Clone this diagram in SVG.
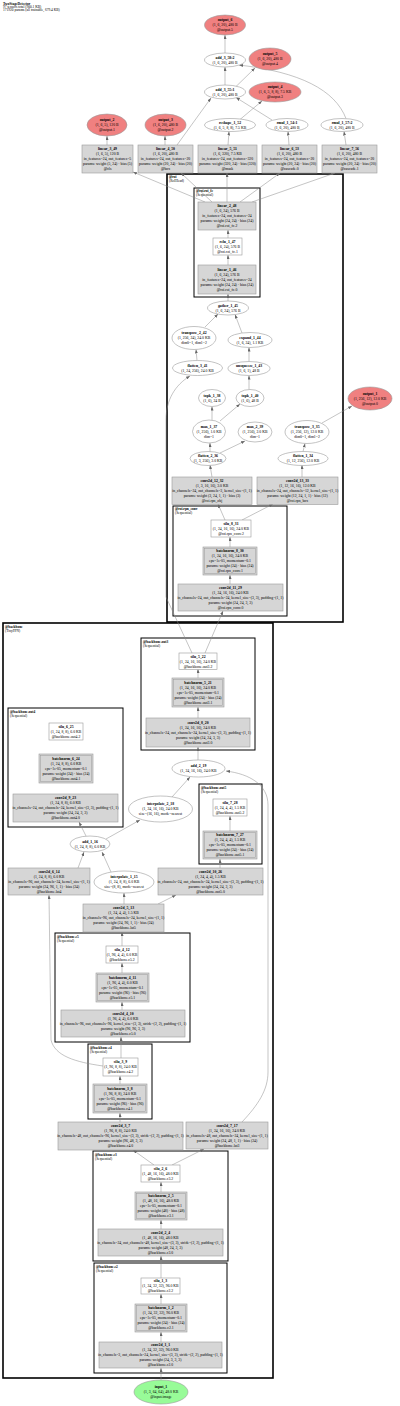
<svg xmlns="http://www.w3.org/2000/svg" width="400" height="1406" viewBox="0 0 400 1406">
<style>
text{font-family:"Liberation Serif",serif;font-size:3.8px;fill:#000}
.t{text-anchor:middle}
.b{font-weight:bold}
.h{font-size:3.5px}
.cl{font-size:3.5px}
.g{fill:#d6d6d6;stroke:#9a9a9a;stroke-width:0.6}
.w{fill:#fff;stroke:#9a9a9a;stroke-width:0.6}
.e{fill:#fff;stroke:#9a9a9a;stroke-width:0.6}
.o{fill:#f08080;stroke:#9a9a9a;stroke-width:0.6}
.i{fill:#98fb98;stroke:#9a9a9a;stroke-width:0.6}
.c1{fill:none;stroke:#000;stroke-width:1.6}
.c2{fill:none;stroke:#000;stroke-width:1}
.ed path{fill:none;stroke:#8a8a8a;stroke-width:0.5;marker-end:url(#a)}
</style>
<defs>
<marker id="a" markerWidth="4" markerHeight="3" refX="4" refY="1.5" orient="auto" markerUnits="userSpaceOnUse"><path d="M0,0L4,1.5L0,3z" fill="#666"/></marker>
</defs>
<rect width="400" height="1406" fill="#fff"/>
<g id="header">
<text class="h b" x="3" y="4.6">TwoStageDetector</text>
<text class="h" x="3" y="8">97 tensors total (900.1 KB)</text>
<text class="h" x="3" y="11.3">171920 params (all trainable, 679.4 KB)</text>
</g>
<g id="clusters">
<rect class="c1" x="167" y="174" width="176" height="448"/>
<text class="cl b" x="169" y="178">@roi</text><text class="cl" x="169" y="182">(RoIHead)</text>
<rect class="c2" x="194" y="188" width="66" height="109"/>
<text class="cl b" x="196" y="192">@roi.roi_fc</text><text class="cl" x="196" y="196">(Sequential)</text>
<rect class="c2" x="173" y="506" width="114" height="110"/>
<text class="cl b" x="175" y="510">@roi.rpn_conv</text><text class="cl" x="175" y="514">(Sequential)</text>
<rect class="c1" x="3" y="623" width="270" height="755"/>
<text class="cl b" x="5" y="627.5">@backbone</text><text class="cl" x="5" y="631.5">(TinyFPN)</text>
<rect class="c2" x="141" y="638" width="114" height="112"/>
<text class="cl b" x="143" y="642.5">@backbone.out3</text><text class="cl" x="143" y="646.5">(Sequential)</text>
<rect class="c2" x="8" y="708" width="115" height="119"/>
<text class="cl b" x="10" y="712.5">@backbone.out4</text><text class="cl" x="10" y="716.5">(Sequential)</text>
<rect class="c2" x="199" y="784" width="63" height="80"/>
<text class="cl b" x="201" y="788.5">@backbone.out5</text><text class="cl" x="201" y="792.5">(Sequential)</text>
<rect class="c2" x="55" y="933" width="135" height="109"/>
<text class="cl b" x="57" y="937.5">@backbone.c5</text><text class="cl" x="57" y="941.5">(Sequential)</text>
<rect class="c2" x="88" y="1044" width="64" height="75"/>
<text class="cl b" x="90" y="1048.5">@backbone.c4</text><text class="cl" x="90" y="1052.5">(Sequential)</text>
<rect class="c2" x="93" y="1151" width="135" height="110"/>
<text class="cl b" x="95" y="1155.5">@backbone.c3</text><text class="cl" x="95" y="1159.5">(Sequential)</text>
<rect class="c2" x="94" y="1263" width="133" height="110"/>
<text class="cl b" x="96" y="1267.5">@backbone.c2</text><text class="cl" x="96" y="1271.5">(Sequential)</text>
</g>
<g id="connectors" class="ed">
<path d="M161,1380L161,1368"/>
<path d="M161,1342L161,1332"/>
<path d="M161,1304L161,1294"/>
<path d="M161,1278L161,1256"/>
<path d="M161,1229L161,1220"/>
<path d="M161,1192L161,1182"/>
<path d="M154,1165L133,1150"/>
<path d="M172,1165L204,1149"/>
<path d="M120,1122L120,1113"/>
<path d="M120,1084L120,1076"/>
<path d="M121,1058L121,1037"/>
<path d="M103,1066C75,1062 55,1056 51,1040L49,895"/>
<path d="M122,1010L122,1002"/>
<path d="M122,973L122,963"/>
<path d="M122,946L122,932"/>
<path d="M124,904L124,893"/>
<path d="M158,904L176,895"/>
<path d="M111,872L102,852"/>
<path d="M78,868L84,852"/>
<path d="M86,836L79,822"/>
<path d="M106,839L140,820"/>
<path d="M172,797L190,777"/>
<path d="M242,1122C258,1105 268,1090 268,1072L268,805C268,785 250,774 226,771"/>
<path d="M220,868L220,859"/>
<path d="M230,831L230,816"/>
<path d="M198,760L198,747"/>
<path d="M198,718L198,707"/>
<path d="M198,678L198,669"/>
<path d="M205,653L223,611"/>
<path d="M192,653L166,597L166,420C166,400 175,385 190,376"/>
<path d="M230,584L230,575"/>
<path d="M230,547L230,537"/>
<path d="M225,520L218,504"/>
<path d="M242,520L273,504"/>
<path d="M212,477L210,465"/>
<path d="M302,477L302,465"/>
<path d="M210,452L210,443"/>
<path d="M220,453L245,441"/>
<path d="M212,420L212,406.5"/>
<path d="M220,421L240,404"/>
<path d="M249,389.5L249,375.5"/>
<path d="M249,361.5L249,347.5"/>
<path d="M242,333L235,314.5"/>
<path d="M197,360.5L196,349.5"/>
<path d="M205,327L218,314"/>
<path d="M228,301L228,294"/>
<path d="M228,265L228,255"/>
<path d="M228,238L228,230"/>
<path d="M303,451.5L305,443.5"/>
<path d="M322,423L352,406"/>
<path d="M205,202L133,172"/>
<path d="M212,202L181,173"/>
<path d="M227,202L227,173"/>
<path d="M240,202L280,173"/>
<path d="M252,202L335,173"/>
<path d="M107,145L107,136"/>
<path d="M165,145L165,136"/>
<path d="M177,145L211,98"/>
<path d="M228,145L229,131.5"/>
<path d="M289,145L288,131.5"/>
<path d="M346,145L344,131.5"/>
<path d="M240,119.5L262,101"/>
<path d="M272,120L236,97.5"/>
<path d="M225,85L225,67"/>
<path d="M236,86.5L255,68"/>
<path d="M346,118.5C335,90 300,72 239,65"/>
<path d="M225,53L225,35"/>
</g>
<g id="output_6"><ellipse class="o" cx="225" cy="25" rx="20.5" ry="10"/><text class="t" x="225" y="21.4"><tspan class="b">output_6</tspan><tspan x="225" dy="5">(1, 6, 20), 480 B</tspan><tspan x="225" dy="5">@output.5</tspan></text></g>
<g id="add_3_58"><ellipse class="e" cx="225" cy="60" rx="20.5" ry="7"/><text class="t" x="225" y="58.9"><tspan class="b">add_3_58:2</tspan><tspan x="225" dy="5">(1, 6, 20), 480 B</tspan></text></g>
<g id="output_5"><ellipse class="o" cx="270" cy="59" rx="21" ry="11"/><text class="t" x="270" y="55.4"><tspan class="b">output_5</tspan><tspan x="270" dy="5">(1, 6, 20), 480 B</tspan><tspan x="270" dy="5">@output.4</tspan></text></g>
<g id="add_3_55"><ellipse class="e" cx="225" cy="92" rx="20.5" ry="7"/><text class="t" x="225" y="90.9"><tspan class="b">add_3_55:1</tspan><tspan x="225" dy="5">(1, 6, 20), 480 B</tspan></text></g>
<g id="output_4"><ellipse class="o" cx="275" cy="92" rx="26" ry="10"/><text class="t" x="275" y="88.4"><tspan class="b">output_4</tspan><tspan x="275" dy="5">(1, 6, 5, 8, 8), 7.5 KB</tspan><tspan x="275" dy="5">@output.3</tspan></text></g>
<g id="reshape_1_52"><ellipse class="e" cx="230" cy="125" rx="25.5" ry="6.5"/><text class="t" x="230" y="123.9"><tspan class="b">reshape_1_52</tspan><tspan x="230" dy="5">(1, 6, 5, 8, 8), 7.5 KB</tspan></text></g>
<g id="rmul_1_54"><ellipse class="e" cx="287" cy="125" rx="21" ry="6.5"/><text class="t" x="287" y="123.9"><tspan class="b">rmul_1_54:1</tspan><tspan x="287" dy="5">(1, 6, 20), 480 B</tspan></text></g>
<g id="rmul_1_57"><ellipse class="e" cx="342" cy="125" rx="21" ry="6.5"/><text class="t" x="342" y="123.9"><tspan class="b">rmul_1_57:2</tspan><tspan x="342" dy="5">(1, 6, 20), 480 B</tspan></text></g>
<g id="output_2"><ellipse class="o" cx="107" cy="125" rx="20" ry="11"/><text class="t" x="107" y="121.4"><tspan class="b">output_2</tspan><tspan x="107" dy="5">(1, 6, 5), 120 B</tspan><tspan x="107" dy="5">@output.1</tspan></text></g>
<g id="output_3"><ellipse class="o" cx="165.5" cy="125" rx="20.5" ry="11"/><text class="t" x="165.5" y="121.4"><tspan class="b">output_3</tspan><tspan x="165.5" dy="5">(1, 6, 20), 480 B</tspan><tspan x="165.5" dy="5">@output.2</tspan></text></g>
<g id="linear_3_49"><rect class="g" x="82" y="145" width="51" height="28"/><text class="t" x="107.5" y="150.4"><tspan class="b">linear_3_49</tspan><tspan x="107.5" dy="5">(1, 6, 5), 120 B</tspan><tspan x="107.5" dy="5">in_features=24, out_features=5</tspan><tspan x="107.5" dy="5">params: weight (5, 24) · bias (5)</tspan><tspan x="107.5" dy="5">@cls</tspan></text></g>
<g id="linear_4_50"><rect class="g" x="138" y="145" width="55" height="28"/><text class="t" x="165.5" y="150.4"><tspan class="b">linear_4_50</tspan><tspan x="165.5" dy="5">(1, 6, 20), 480 B</tspan><tspan x="165.5" dy="5">in_features=24, out_features=20</tspan><tspan x="165.5" dy="5">params: weight (20, 24) · bias (20)</tspan><tspan x="165.5" dy="5">@box</tspan></text></g>
<g id="linear_5_51"><rect class="g" x="198" y="145" width="59" height="28"/><text class="t" x="227.5" y="150.4"><tspan class="b">linear_5_51</tspan><tspan x="227.5" dy="5">(1, 6, 320), 7.5 KB</tspan><tspan x="227.5" dy="5">in_features=24, out_features=320</tspan><tspan x="227.5" dy="5">params: weight (320, 24) · bias (320)</tspan><tspan x="227.5" dy="5">@mask</tspan></text></g>
<g id="linear_6_53"><rect class="g" x="262" y="145" width="55" height="28"/><text class="t" x="289.5" y="150.4"><tspan class="b">linear_6_53</tspan><tspan x="289.5" dy="5">(1, 6, 20), 480 B</tspan><tspan x="289.5" dy="5">in_features=24, out_features=20</tspan><tspan x="289.5" dy="5">params: weight (20, 24) · bias (20)</tspan><tspan x="289.5" dy="5">@cascade.0</tspan></text></g>
<g id="linear_7_56"><rect class="g" x="322" y="145" width="55" height="28"/><text class="t" x="349.5" y="150.4"><tspan class="b">linear_7_56</tspan><tspan x="349.5" dy="5">(1, 6, 20), 480 B</tspan><tspan x="349.5" dy="5">in_features=24, out_features=20</tspan><tspan x="349.5" dy="5">params: weight (20, 24) · bias (20)</tspan><tspan x="349.5" dy="5">@cascade.1</tspan></text></g>
<g id="linear_2_48"><rect class="g" x="198" y="202" width="58" height="28"/><text class="t" x="227" y="207.4"><tspan class="b">linear_2_48</tspan><tspan x="227" dy="5">(1, 6, 24), 576 B</tspan><tspan x="227" dy="5">in_features=24, out_features=24</tspan><tspan x="227" dy="5">params: weight (24, 24) · bias (24)</tspan><tspan x="227" dy="5">@roi.roi_fc.2</tspan></text></g>
<g id="relu_1_47"><rect class="w" x="213" y="238" width="29" height="17"/><text class="t" x="227.5" y="242.9"><tspan class="b">relu_1_47</tspan><tspan x="227.5" dy="5">(1, 6, 24), 576 B</tspan><tspan x="227.5" dy="5">@roi.roi_fc.1</tspan></text></g>
<g id="linear_1_46"><rect class="g" x="198" y="265" width="58" height="29"/><text class="t" x="227" y="270.9"><tspan class="b">linear_1_46</tspan><tspan x="227" dy="5">(1, 6, 24), 576 B</tspan><tspan x="227" dy="5">in_features=24, out_features=24</tspan><tspan x="227" dy="5">params: weight (24, 24) · bias (24)</tspan><tspan x="227" dy="5">@roi.roi_fc.0</tspan></text></g>
<g id="gather_1_45"><ellipse class="e" cx="228" cy="308" rx="20.5" ry="7"/><text class="t" x="228" y="306.9"><tspan class="b">gather_1_45</tspan><tspan x="228" dy="5">(1, 6, 24), 576 B</tspan></text></g>
<g id="transpose_2_42"><ellipse class="e" cx="194" cy="338" rx="22" ry="11.5"/><text class="t" x="194" y="334.4"><tspan class="b">transpose_2_42</tspan><tspan x="194" dy="5">(1, 256, 24), 24.0 KB</tspan><tspan x="194" dy="5">dim0=1, dim1=2</tspan></text></g>
<g id="expand_1_44"><ellipse class="e" cx="250" cy="340" rx="22" ry="7.5"/><text class="t" x="250" y="338.9"><tspan class="b">expand_1_44</tspan><tspan x="250" dy="5">(1, 6, 24), 1.1 KB</tspan></text></g>
<g id="flatten_3_41"><ellipse class="e" cx="197.5" cy="368" rx="25" ry="7.5"/><text class="t" x="197.5" y="366.9"><tspan class="b">flatten_3_41</tspan><tspan x="197.5" dy="5">(1, 24, 256), 24.0 KB</tspan></text></g>
<g id="unsqueeze_1_43"><ellipse class="e" cx="249" cy="368.5" rx="21" ry="7"/><text class="t" x="249" y="367.4"><tspan class="b">unsqueeze_1_43</tspan><tspan x="249" dy="5">(1, 6, 1), 48 B</tspan></text></g>
<g id="topk_1_38"><ellipse class="e" cx="212" cy="398" rx="13.5" ry="8.5"/><text class="t" x="212" y="396.9"><tspan class="b">topk_1_38</tspan><tspan x="212" dy="5">(1, 6), 24 B</tspan></text></g>
<g id="topk_1_40"><ellipse class="e" cx="250" cy="398" rx="14" ry="8.5"/><text class="t" x="250" y="396.9"><tspan class="b">topk_1_40</tspan><tspan x="250" dy="5">(1, 6), 48 B</tspan></text></g>
<g id="max_1_37"><ellipse class="e" cx="209" cy="431.5" rx="16.5" ry="11.5"/><text class="t" x="209" y="427.9"><tspan class="b">max_1_37</tspan><tspan x="209" dy="5">(1, 256), 1.0 KB</tspan><tspan x="209" dy="5">dim=1</tspan></text></g>
<g id="max_2_39"><ellipse class="e" cx="255" cy="432" rx="17" ry="10"/><text class="t" x="255" y="428.4"><tspan class="b">max_2_39</tspan><tspan x="255" dy="5">(1, 256), 2.0 KB</tspan><tspan x="255" dy="5">dim=1</tspan></text></g>
<g id="transpose_3_35"><ellipse class="e" cx="307" cy="432" rx="22" ry="11.5"/><text class="t" x="307" y="428.4"><tspan class="b">transpose_3_35</tspan><tspan x="307" dy="5">(1, 256, 12), 12.0 KB</tspan><tspan x="307" dy="5">dim0=1, dim1=2</tspan></text></g>
<g id="output_1"><ellipse class="o" cx="370" cy="398.5" rx="22" ry="11.5"/><text class="t" x="370" y="394.9"><tspan class="b">output_1</tspan><tspan x="370" dy="5">(1, 256, 12), 12.0 KB</tspan><tspan x="370" dy="5">@output.0</tspan></text></g>
<g id="flatten_2_36"><ellipse class="e" cx="208" cy="458.5" rx="18" ry="7"/><text class="t" x="208" y="457.4"><tspan class="b">flatten_2_36</tspan><tspan x="208" dy="5">(1, 3, 256), 3.0 KB</tspan></text></g>
<g id="flatten_1_34"><ellipse class="e" cx="303" cy="458.5" rx="25" ry="7"/><text class="t" x="303" y="457.4"><tspan class="b">flatten_1_34</tspan><tspan x="303" dy="5">(1, 12, 256), 12.0 KB</tspan></text></g>
<g id="conv2d_12_32"><rect class="g" x="172" y="477" width="80" height="27.5"/><text class="t" x="212" y="482.1"><tspan class="b">conv2d_12_32</tspan><tspan x="212" dy="5">(1, 3, 16, 16), 3.0 KB</tspan><tspan x="212" dy="5">in_channels=24, out_channels=3, kernel_size=(1, 1)</tspan><tspan x="212" dy="5">params: weight (3, 24, 1, 1) · bias (3)</tspan><tspan x="212" dy="5">@roi.rpn_obj</tspan></text></g>
<g id="conv2d_13_33"><rect class="g" x="257" y="477" width="81" height="27.5"/><text class="t" x="297.5" y="482.1"><tspan class="b">conv2d_13_33</tspan><tspan x="297.5" dy="5">(1, 12, 16, 16), 12.0 KB</tspan><tspan x="297.5" dy="5">in_channels=24, out_channels=12, kernel_size=(1, 1)</tspan><tspan x="297.5" dy="5">params: weight (12, 24, 1, 1) · bias (12)</tspan><tspan x="297.5" dy="5">@roi.rpn_box</tspan></text></g>
<g id="silu_8_31"><rect class="w" x="211" y="520" width="40" height="17"/><text class="t" x="231" y="524.9"><tspan class="b">silu_8_31</tspan><tspan x="231" dy="5">(1, 24, 16, 16), 24.0 KB</tspan><tspan x="231" dy="5">@roi.rpn_conv.2</tspan></text></g>
<g id="batchnorm_8_30"><rect class="g" x="203" y="547" width="54" height="28"/><rect x="204.5" y="548.5" width="51" height="25" fill="none" stroke="#9a9a9a" stroke-width="0.5"/><text class="t" x="230" y="552.4"><tspan class="b">batchnorm_8_30</tspan><tspan x="230" dy="5">(1, 24, 16, 16), 24.0 KB</tspan><tspan x="230" dy="5">eps=1e-05, momentum=0.1</tspan><tspan x="230" dy="5">params: weight (24) · bias (24)</tspan><tspan x="230" dy="5">@roi.rpn_conv.1</tspan></text></g>
<g id="conv2d_11_29"><rect class="g" x="178" y="584" width="105" height="27"/><text class="t" x="230.5" y="588.9"><tspan class="b">conv2d_11_29</tspan><tspan x="230.5" dy="5">(1, 24, 16, 16), 24.0 KB</tspan><tspan x="230.5" dy="5">in_channels=24, out_channels=24, kernel_size=(3, 3), padding=(1, 1)</tspan><tspan x="230.5" dy="5">params: weight (24, 24, 3, 3)</tspan><tspan x="230.5" dy="5">@roi.rpn_conv.0</tspan></text></g>
<g id="silu_5_22"><rect class="w" x="179" y="653" width="38" height="16.5"/><text class="t" x="198" y="657.6"><tspan class="b">silu_5_22</tspan><tspan x="198" dy="5">(1, 24, 16, 16), 24.0 KB</tspan><tspan x="198" dy="5">@backbone.out3.2</tspan></text></g>
<g id="batchnorm_5_21"><rect class="g" x="172" y="678" width="52" height="29"/><rect x="173.5" y="679.5" width="49" height="26" fill="none" stroke="#9a9a9a" stroke-width="0.5"/><text class="t" x="198" y="683.9"><tspan class="b">batchnorm_5_21</tspan><tspan x="198" dy="5">(1, 24, 16, 16), 24.0 KB</tspan><tspan x="198" dy="5">eps=1e-05, momentum=0.1</tspan><tspan x="198" dy="5">params: weight (24) · bias (24)</tspan><tspan x="198" dy="5">@backbone.out3.1</tspan></text></g>
<g id="conv2d_8_20"><rect class="g" x="146" y="718" width="104" height="29"/><text class="t" x="198" y="723.9"><tspan class="b">conv2d_8_20</tspan><tspan x="198" dy="5">(1, 24, 16, 16), 24.0 KB</tspan><tspan x="198" dy="5">in_channels=24, out_channels=24, kernel_size=(3, 3), padding=(1, 1)</tspan><tspan x="198" dy="5">params: weight (24, 24, 3, 3)</tspan><tspan x="198" dy="5">@backbone.out3.0</tspan></text></g>
<g id="add_2_19"><ellipse class="e" cx="198.5" cy="768.5" rx="26.5" ry="8.5"/><text class="t" x="198.5" y="767.4"><tspan class="b">add_2_19</tspan><tspan x="198.5" dy="5">(1, 24, 16, 16), 24.0 KB</tspan></text></g>
<g id="silu_6_25"><rect class="w" x="49" y="723" width="34" height="17"/><text class="t" x="66" y="727.9"><tspan class="b">silu_6_25</tspan><tspan x="66" dy="5">(1, 24, 8, 8), 6.0 KB</tspan><tspan x="66" dy="5">@backbone.out4.2</tspan></text></g>
<g id="batchnorm_6_24"><rect class="g" x="39" y="754" width="54" height="29"/><rect x="40.5" y="755.5" width="51" height="26" fill="none" stroke="#9a9a9a" stroke-width="0.5"/><text class="t" x="66" y="759.9"><tspan class="b">batchnorm_6_24</tspan><tspan x="66" dy="5">(1, 24, 8, 8), 6.0 KB</tspan><tspan x="66" dy="5">eps=1e-05, momentum=0.1</tspan><tspan x="66" dy="5">params: weight (24) · bias (24)</tspan><tspan x="66" dy="5">@backbone.out4.1</tspan></text></g>
<g id="conv2d_9_23"><rect class="g" x="13" y="794" width="105" height="28"/><text class="t" x="65.5" y="799.4"><tspan class="b">conv2d_9_23</tspan><tspan x="65.5" dy="5">(1, 24, 8, 8), 6.0 KB</tspan><tspan x="65.5" dy="5">in_channels=24, out_channels=24, kernel_size=(3, 3), padding=(1, 1)</tspan><tspan x="65.5" dy="5">params: weight (24, 24, 3, 3)</tspan><tspan x="65.5" dy="5">@backbone.out4.0</tspan></text></g>
<g id="interpolate_2_18"><ellipse class="e" cx="160.5" cy="809" rx="32" ry="13"/><text class="t" x="160.5" y="805.4"><tspan class="b">interpolate_2_18</tspan><tspan x="160.5" dy="5">(1, 24, 16, 16), 24.0 KB</tspan><tspan x="160.5" dy="5">size=(16, 16), mode=nearest</tspan></text></g>
<g id="add_1_16"><ellipse class="e" cx="90" cy="844" rx="20" ry="8"/><text class="t" x="90" y="842.9"><tspan class="b">add_1_16</tspan><tspan x="90" dy="5">(1, 24, 8, 8), 6.0 KB</tspan></text></g>
<g id="silu_7_28"><rect class="w" x="213" y="799" width="34" height="17"/><text class="t" x="230" y="803.9"><tspan class="b">silu_7_28</tspan><tspan x="230" dy="5">(1, 24, 4, 4), 1.5 KB</tspan><tspan x="230" dy="5">@backbone.out5.2</tspan></text></g>
<g id="batchnorm_7_27"><rect class="g" x="203" y="831" width="54" height="28"/><rect x="204.5" y="832.5" width="51" height="25" fill="none" stroke="#9a9a9a" stroke-width="0.5"/><text class="t" x="230" y="836.4"><tspan class="b">batchnorm_7_27</tspan><tspan x="230" dy="5">(1, 24, 4, 4), 1.5 KB</tspan><tspan x="230" dy="5">eps=1e-05, momentum=0.1</tspan><tspan x="230" dy="5">params: weight (24) · bias (24)</tspan><tspan x="230" dy="5">@backbone.out5.1</tspan></text></g>
<g id="conv2d_10_26"><rect class="g" x="158" y="868" width="105" height="27"/><text class="t" x="210.5" y="872.9"><tspan class="b">conv2d_10_26</tspan><tspan x="210.5" dy="5">(1, 24, 4, 4), 1.5 KB</tspan><tspan x="210.5" dy="5">in_channels=24, out_channels=24, kernel_size=(3, 3), padding=(1, 1)</tspan><tspan x="210.5" dy="5">params: weight (24, 24, 3, 3)</tspan><tspan x="210.5" dy="5">@backbone.out5.0</tspan></text></g>
<g id="conv2d_6_14"><rect class="g" x="8" y="868" width="82" height="27"/><text class="t" x="49" y="872.9"><tspan class="b">conv2d_6_14</tspan><tspan x="49" dy="5">(1, 24, 8, 8), 6.0 KB</tspan><tspan x="49" dy="5">in_channels=96, out_channels=24, kernel_size=(1, 1)</tspan><tspan x="49" dy="5">params: weight (24, 96, 1, 1) · bias (24)</tspan><tspan x="49" dy="5">@backbone.lat4</tspan></text></g>
<g id="interpolate_1_15"><ellipse class="e" cx="124" cy="882" rx="30" ry="11"/><text class="t" x="124" y="878.4"><tspan class="b">interpolate_1_15</tspan><tspan x="124" dy="5">(1, 24, 8, 8), 6.0 KB</tspan><tspan x="124" dy="5">size=(8, 8), mode=nearest</tspan></text></g>
<g id="conv2d_5_13"><rect class="g" x="83" y="904" width="81" height="28"/><text class="t" x="123.5" y="909.4"><tspan class="b">conv2d_5_13</tspan><tspan x="123.5" dy="5">(1, 24, 4, 4), 1.5 KB</tspan><tspan x="123.5" dy="5">in_channels=96, out_channels=24, kernel_size=(1, 1)</tspan><tspan x="123.5" dy="5">params: weight (24, 96, 1, 1) · bias (24)</tspan><tspan x="123.5" dy="5">@backbone.lat5</tspan></text></g>
<g id="silu_4_12"><rect class="w" x="106" y="946" width="32" height="17"/><text class="t" x="122" y="950.9"><tspan class="b">silu_4_12</tspan><tspan x="122" dy="5">(1, 96, 4, 4), 6.0 KB</tspan><tspan x="122" dy="5">@backbone.c5.2</tspan></text></g>
<g id="batchnorm_4_11"><rect class="g" x="96" y="973" width="53" height="29"/><rect x="97.5" y="974.5" width="50" height="26" fill="none" stroke="#9a9a9a" stroke-width="0.5"/><text class="t" x="122.5" y="978.9"><tspan class="b">batchnorm_4_11</tspan><tspan x="122.5" dy="5">(1, 96, 4, 4), 6.0 KB</tspan><tspan x="122.5" dy="5">eps=1e-05, momentum=0.1</tspan><tspan x="122.5" dy="5">params: weight (96) · bias (96)</tspan><tspan x="122.5" dy="5">@backbone.c5.1</tspan></text></g>
<g id="conv2d_4_10"><rect class="g" x="61" y="1010" width="124" height="27"/><text class="t" x="123" y="1014.9"><tspan class="b">conv2d_4_10</tspan><tspan x="123" dy="5">(1, 96, 4, 4), 6.0 KB</tspan><tspan x="123" dy="5">in_channels=96, out_channels=96, kernel_size=(3, 3), stride=(2, 2), padding=(1, 1)</tspan><tspan x="123" dy="5">params: weight (96, 96, 3, 3)</tspan><tspan x="123" dy="5">@backbone.c5.0</tspan></text></g>
<g id="silu_3_9"><rect class="w" x="103" y="1058" width="35" height="18"/><text class="t" x="120.5" y="1063.4"><tspan class="b">silu_3_9</tspan><tspan x="120.5" dy="5">(1, 96, 8, 8), 24.0 KB</tspan><tspan x="120.5" dy="5">@backbone.c4.2</tspan></text></g>
<g id="batchnorm_3_8"><rect class="g" x="93" y="1084" width="54" height="29"/><rect x="94.5" y="1085.5" width="51" height="26" fill="none" stroke="#9a9a9a" stroke-width="0.5"/><text class="t" x="120" y="1089.9"><tspan class="b">batchnorm_3_8</tspan><tspan x="120" dy="5">(1, 96, 8, 8), 24.0 KB</tspan><tspan x="120" dy="5">eps=1e-05, momentum=0.1</tspan><tspan x="120" dy="5">params: weight (96) · bias (96)</tspan><tspan x="120" dy="5">@backbone.c4.1</tspan></text></g>
<g id="conv2d_3_7"><rect class="g" x="58" y="1122" width="125" height="28"/><text class="t" x="120.5" y="1127.4"><tspan class="b">conv2d_3_7</tspan><tspan x="120.5" dy="5">(1, 96, 8, 8), 24.0 KB</tspan><tspan x="120.5" dy="5">in_channels=48, out_channels=96, kernel_size=(3, 3), stride=(2, 2), padding=(1, 1)</tspan><tspan x="120.5" dy="5">params: weight (96, 48, 3, 3)</tspan><tspan x="120.5" dy="5">@backbone.c4.0</tspan></text></g>
<g id="conv2d_7_17"><rect class="g" x="186" y="1122" width="82" height="27"/><text class="t" x="227" y="1126.9"><tspan class="b">conv2d_7_17</tspan><tspan x="227" dy="5">(1, 24, 16, 16), 24.0 KB</tspan><tspan x="227" dy="5">in_channels=48, out_channels=24, kernel_size=(1, 1)</tspan><tspan x="227" dy="5">params: weight (24, 48, 1, 1) · bias (24)</tspan><tspan x="227" dy="5">@backbone.lat3</tspan></text></g>
<g id="silu_2_6"><rect class="w" x="141" y="1165" width="39" height="17"/><text class="t" x="160.5" y="1169.9"><tspan class="b">silu_2_6</tspan><tspan x="160.5" dy="5">(1, 48, 16, 16), 48.0 KB</tspan><tspan x="160.5" dy="5">@backbone.c3.2</tspan></text></g>
<g id="batchnorm_2_5"><rect class="g" x="135" y="1192" width="52" height="28"/><rect x="136.5" y="1193.5" width="49" height="25" fill="none" stroke="#9a9a9a" stroke-width="0.5"/><text class="t" x="161" y="1197.4"><tspan class="b">batchnorm_2_5</tspan><tspan x="161" dy="5">(1, 48, 16, 16), 48.0 KB</tspan><tspan x="161" dy="5">eps=1e-05, momentum=0.1</tspan><tspan x="161" dy="5">params: weight (48) · bias (48)</tspan><tspan x="161" dy="5">@backbone.c3.1</tspan></text></g>
<g id="conv2d_2_4"><rect class="g" x="98" y="1229" width="125" height="27"/><text class="t" x="160.5" y="1233.9"><tspan class="b">conv2d_2_4</tspan><tspan x="160.5" dy="5">(1, 48, 16, 16), 48.0 KB</tspan><tspan x="160.5" dy="5">in_channels=24, out_channels=48, kernel_size=(3, 3), stride=(2, 2), padding=(1, 1)</tspan><tspan x="160.5" dy="5">params: weight (48, 24, 3, 3)</tspan><tspan x="160.5" dy="5">@backbone.c3.0</tspan></text></g>
<g id="silu_1_3"><rect class="w" x="141" y="1278" width="39" height="16"/><text class="t" x="160.5" y="1282.4"><tspan class="b">silu_1_3</tspan><tspan x="160.5" dy="5">(1, 24, 32, 32), 96.0 KB</tspan><tspan x="160.5" dy="5">@backbone.c2.2</tspan></text></g>
<g id="batchnorm_1_2"><rect class="g" x="135" y="1304" width="52" height="28"/><rect x="136.5" y="1305.5" width="49" height="25" fill="none" stroke="#9a9a9a" stroke-width="0.5"/><text class="t" x="161" y="1309.4"><tspan class="b">batchnorm_1_2</tspan><tspan x="161" dy="5">(1, 24, 32, 32), 96.0 KB</tspan><tspan x="161" dy="5">eps=1e-05, momentum=0.1</tspan><tspan x="161" dy="5">params: weight (24) · bias (24)</tspan><tspan x="161" dy="5">@backbone.c2.1</tspan></text></g>
<g id="conv2d_1_1"><rect class="g" x="99" y="1342" width="123" height="26"/><text class="t" x="160.5" y="1346.4"><tspan class="b">conv2d_1_1</tspan><tspan x="160.5" dy="5">(1, 24, 32, 32), 96.0 KB</tspan><tspan x="160.5" dy="5">in_channels=3, out_channels=24, kernel_size=(3, 3), stride=(2, 2), padding=(1, 1)</tspan><tspan x="160.5" dy="5">params: weight (24, 3, 3, 3)</tspan><tspan x="160.5" dy="5">@backbone.c2.0</tspan></text></g>
<g id="input_1"><ellipse class="i" cx="161" cy="1392" rx="27" ry="12"/><text class="t" x="161" y="1388.4"><tspan class="b">input_1</tspan><tspan x="161" dy="5">(1, 3, 64, 64), 48.0 KB</tspan><tspan x="161" dy="5">@input.image</tspan></text></g>
</svg>
